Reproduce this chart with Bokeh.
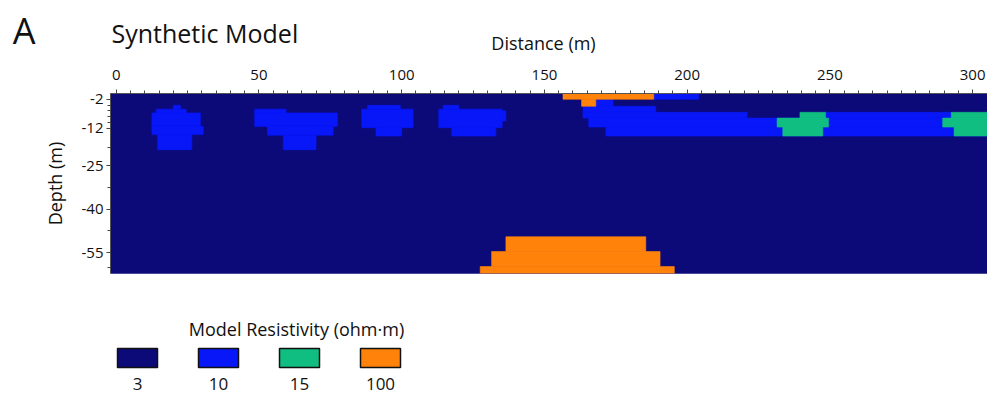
from bokeh.plotting import figure
from bokeh.models import Range1d, FixedTicker, ColumnDataSource
from bokeh.layouts import column
from bokeh.embed import file_html
from bokeh.resources import INLINE
from bokeh.core.properties import value

FONT = "Open Sans"
INK = "#111111"

# Resistivity classes (ohm*m) and their colours
classes = [3, 10, 15, 100]
class_colors = ["#0c0a78", "#0717f8", "#10be82", "#ff830a"]

# Model cells: distance from / to (m), depth top / bottom (m), resistivity class
cell_x0 = [-2, 20, 14, 12.5, 12.5, 14.5,
           48.5, 48.5, 53, 58.5,
           88, 86, 91,
           114.5, 113, 135, 117.5,
           188.3, 168, 163.5, 163.5, 248.5, 165.5, 171.5,
           239.5, 292.5, 231.5, 289.5, 233.5, 293.5,
           156.5, 163, 136.5, 131.5, 127.5]
cell_x1 = [305.2, 22.5, 24.5, 29.5, 30.5, 26.5,
           59.5, 77.5, 76, 70,
           99.5, 104, 100,
           120, 135.2, 136.5, 133,
           204, 174, 189, 221, 292.5, 305.2, 305.2,
           248.5, 305.2, 249.5, 305.2, 247.5, 305.2,
           188.3, 168, 185.5, 190.5, 195.5]
cell_top = [0, 4.1, 5.4, 6.7, 11.4, 14.2,
            5.4, 6.7, 11.4, 14.4,
            4.1, 5.4, 11.8,
            4.1, 5.4, 6.0, 11.8,
            0, 2.0, 4.4, 6.5, 6.5, 8.5, 11.6,
            6.5, 6.5, 8.5, 8.5, 11.6, 11.6,
            0, 2.0, 49.5, 54.6, 59.8]
cell_bot = [62.2, 5.4, 6.7, 11.4, 14.2, 19.4,
            6.7, 11.4, 14.4, 19.4,
            5.4, 11.8, 14.7,
            5.4, 11.8, 9.5, 14.7,
            2.0, 4.4, 6.5, 8.5, 8.5, 11.6, 14.7,
            8.5, 8.5, 11.6, 11.6, 14.7, 14.7,
            2.0, 4.4, 54.6, 59.8, 62.2]
cell_res = [3, 10, 10, 10, 10, 10,
            10, 10, 10, 10,
            10, 10, 10,
            10, 10, 10, 10,
            10, 10, 10, 10, 10, 10, 10,
            15, 15, 15, 15, 15, 15,
            100, 100, 100, 100, 100]

x_ticks = [0, 50, 100, 150, 200, 250, 300]
depth_ticks = [-2, -12, -25, -40, -55]
depth_minor = [-4, -6, -8, -10, -18.5, -32.5, -47.5, -60]

W = 987
LEFT = 110   # width of the left border (depth axis); frames of all panels line up

# ---- header: panel letter, title, axis title (pixel coordinates) ----
hd = figure(width=W, height=58, x_range=Range1d(LEFT, W), y_range=Range1d(58, 0),
            toolbar_location=None, output_backend="svg",
            min_border_left=LEFT, min_border_right=0, min_border_top=0, min_border_bottom=0,
            x_axis_location=None, y_axis_location="left", outline_line_color=None)
hd.grid.visible = False
ha = hd.yaxis[0]
ha.ticker = FixedTicker(ticks=[19], minor_ticks=[])
ha.major_label_overrides = {19: "A"}
ha.axis_line_color = None
ha.major_tick_line_color = None
ha.minor_tick_line_color = None
ha.major_tick_out = 0
ha.major_tick_in = 0
ha.major_label_standoff = 75
ha.major_label_text_font = FONT
ha.major_label_text_font_size = "36px"
ha.major_label_text_color = INK
hd.text(x=[111], y=[32], text=["Synthetic Model"], text_font=value(FONT),
        text_font_size="25px", text_color=INK, text_baseline="middle")
hd.text(x=[543], y=[42], text=["Distance (m)"], text_font=value(FONT),
        text_font_size="18px", text_color=INK, text_align="center", text_baseline="middle")

# ---- model section ----
color_of = dict(zip(classes, class_colors))
src = ColumnDataSource(dict(
    left=cell_x0, right=cell_x1,
    top=[-t for t in cell_top], bottom=[-b for b in cell_bot],
    color=[color_of[r] for r in cell_res],
))

p = figure(width=W, height=220, x_range=Range1d(-2, 305.2), y_range=Range1d(-62.2, 0),
           x_axis_location="above", toolbar_location=None, output_backend="svg",
           min_border_left=LEFT, min_border_top=35, min_border_right=0, min_border_bottom=5,
           background_fill_color=class_colors[0], border_fill_color="white",
           outline_line_color=None)
p.grid.visible = False
p.quad(left="left", right="right", top="top", bottom="bottom", source=src,
       fill_color="color", line_color="color", line_width=0.6)

xa = p.xaxis[0]
xa.ticker = FixedTicker(ticks=x_ticks, minor_ticks=list(range(0, 305, 5)))
ya = p.yaxis[0]
ya.ticker = FixedTicker(ticks=depth_ticks, minor_ticks=depth_minor)
ya.major_label_overrides = {t: str(t) for t in depth_ticks}
ya.axis_label = "Depth (m)"
for ax in (xa, ya):
    ax.axis_line_color = "#555555"
    ax.major_tick_line_color = "#444444"
    ax.minor_tick_line_color = "#444444"
    ax.major_tick_in = 0
    ax.minor_tick_in = 0
    ax.major_tick_out = 4
    ax.minor_tick_out = 3
    ax.major_label_text_font = FONT
    ax.major_label_text_font_size = "15px"
    ax.major_label_text_color = INK
    ax.axis_label_text_font = FONT
    ax.axis_label_text_font_size = "18px"
    ax.axis_label_text_font_style = "normal"
    ax.axis_label_text_color = INK
xa.major_label_standoff = 10
ya.major_label_standoff = 3
ya.axis_label_standoff = 12

# ---- legend panel (pixel coordinates) ----
lg = figure(width=W, height=118, x_range=Range1d(LEFT, W), y_range=Range1d(118, 0),
            toolbar_location=None, output_backend="svg",
            min_border_left=LEFT, min_border_right=0, min_border_top=0, min_border_bottom=0,
            x_axis_location=None, y_axis_location=None, outline_line_color=None)
lg.grid.visible = False
sw_x = [137 + 81 * i for i in range(len(classes))]
lg.rect(x=sw_x, y=[79.5] * len(classes), width=40, height=19,
        fill_color=class_colors, line_color=INK, line_width=1.5)
lg.text(x=sw_x, y=[105] * len(classes), text=[str(c) for c in classes],
        text_align="center", text_baseline="middle", text_font=value(FONT),
        text_font_size="17px", text_color=INK)
lg.text(x=[296], y=[50], text=["Model Resistivity (ohm\u00b7m)"],
        text_align="center", text_baseline="middle", text_font=value(FONT),
        text_font_size="18px", text_color=INK)

layout = column(hd, p, lg, spacing=0)
open("out.html", "w").write(file_html(layout, INLINE))
